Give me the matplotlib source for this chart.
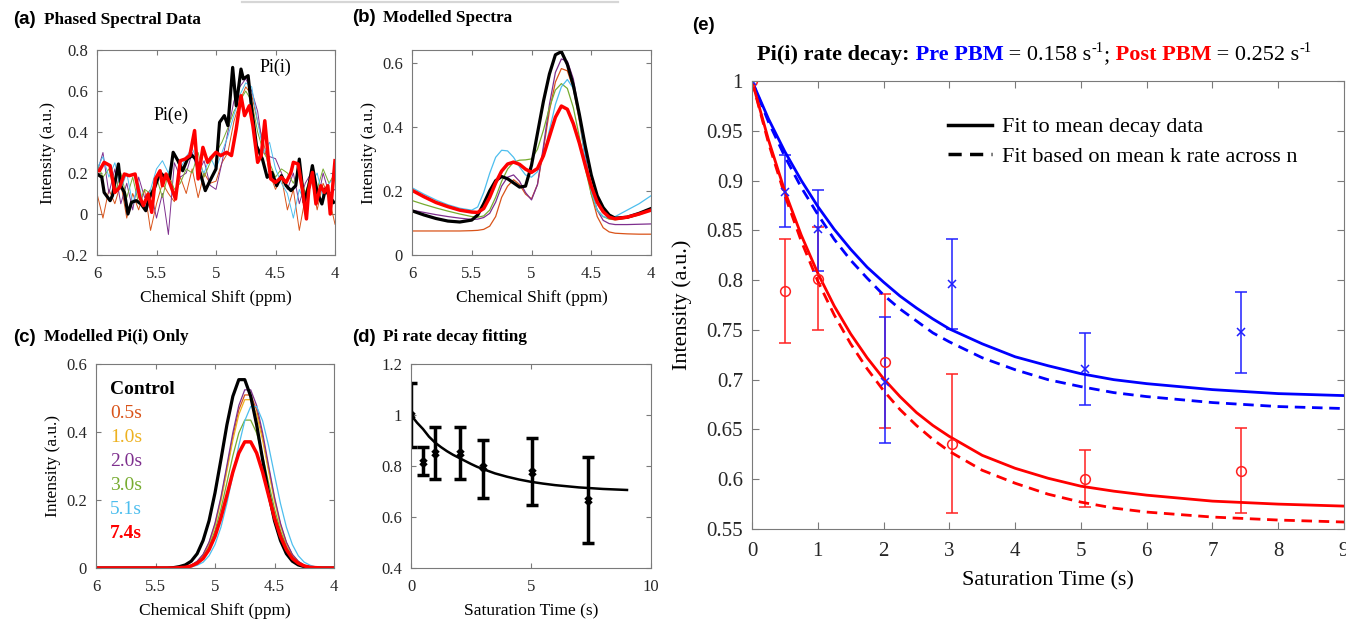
#!/usr/bin/env python3
"""
Pi(i) saturation-transfer figure: spectra (a-c), decay fit (d) and pre/post PBM rates (e).
"""
import matplotlib
matplotlib.use('Agg')
import matplotlib.pyplot as plt
from matplotlib.ticker import FuncFormatter
from matplotlib.lines import Line2D

W, H = 1346, 621

ORANGE, YELLOW, PURPLE = '#D95319', '#EDB120', '#7E2F8E'
GREEN, CYAN = '#77AC30', '#4DBEEE'

# ---- (a) phased spectral data
a_ppm_black = [6.00, 5.96, 5.94, 5.89, 5.87, 5.82, 5.80, 5.77, 5.74, 5.71, 5.67, 5.63, 5.59, 5.56,
               5.52, 5.47, 5.43, 5.39, 5.36, 5.32, 5.28, 5.24, 5.20, 5.17, 5.13, 5.09, 5.05, 5.00,
               4.97, 4.93, 4.90, 4.86, 4.83, 4.79, 4.77, 4.73, 4.70, 4.66, 4.61, 4.57, 4.53, 4.49,
               4.45, 4.41, 4.37, 4.33, 4.30, 4.26, 4.22, 4.19, 4.15, 4.11, 4.08, 4.05, 4.01]
a_black = [0.195, 0.180, 0.105, 0.065, 0.090, 0.244, 0.138, 0.105, 0.000, 0.057, 0.065, 0.049, 0.016,
           0.081, 0.122, 0.203, 0.179, 0.171, 0.301, 0.260, 0.211, 0.268, 0.285, 0.268, 0.195, 0.114,
           0.163, 0.220, 0.447, 0.480, 0.431, 0.715, 0.528, 0.707, 0.659, 0.675, 0.512, 0.333, 0.268,
           0.179, 0.203, 0.138, 0.187, 0.138, 0.114, 0.138, 0.268, 0.057, 0.138, 0.236, 0.105, 0.049,
           0.122, 0.089, 0.057]
a_ppm_red = [6.00, 5.98, 5.94, 5.89, 5.85, 5.81, 5.77, 5.73, 5.68, 5.64, 5.61, 5.57, 5.54, 5.51, 5.47,
             5.45, 5.42, 5.38, 5.34, 5.30, 5.26, 5.22, 5.18, 5.15, 5.11, 5.07, 5.04, 5.00, 4.96, 4.91,
             4.87, 4.83, 4.79, 4.76, 4.72, 4.69, 4.65, 4.62, 4.59, 4.56, 4.54, 4.50, 4.45, 4.41, 4.37,
             4.35, 4.31, 4.27, 4.24, 4.22, 4.19, 4.16, 4.12, 4.09, 4.06, 4.04, 4.00]
a_red = [0.211, 0.211, 0.252, 0.236, 0.105, 0.130, 0.195, 0.187, 0.195, 0.081, 0.041, 0.098, 0.008,
         0.171, 0.211, 0.138, 0.195, 0.138, 0.073, 0.260, 0.268, 0.285, 0.407, 0.171, 0.325, 0.252,
         0.276, 0.301, 0.285, 0.301, 0.285, 0.415, 0.577, 0.480, 0.528, 0.431, 0.252, 0.285, 0.455,
         0.268, 0.171, 0.154, 0.179, 0.154, 0.203, 0.252, 0.244, 0.105, -0.024, 0.122, 0.203, 0.049,
         0.138, 0.105, 0.138, 0.000, 0.260]
a_ppm_thin = [6.00, 5.95, 5.90, 5.85, 5.80, 5.75, 5.70, 5.65, 5.60, 5.55, 5.50, 5.45, 5.40, 5.35,
              5.30, 5.25, 5.20, 5.15, 5.10, 5.05, 5.00, 4.95, 4.90, 4.85, 4.80, 4.75, 4.70, 4.65,
              4.60, 4.55, 4.50, 4.45, 4.40, 4.35, 4.30, 4.25, 4.20, 4.15, 4.10, 4.05, 4.00]
a_orange = [0.10, -0.02, 0.12, 0.05, 0.15, -0.02, 0.10, 0.02, 0.12, -0.08, 0.05, 0.15, 0.10, 0.06,
            0.18, 0.10, 0.22, 0.08, 0.20, 0.15, 0.16, 0.25, 0.30, 0.45, 0.55, 0.62, 0.58, 0.45,
            0.35, 0.20, 0.12, 0.18, 0.02, 0.12, -0.08, 0.08, 0.18, 0.02, 0.15, 0.08, -0.05]
a_purple = [0.20, 0.30, 0.10, 0.22, 0.05, 0.15, 0.02, 0.18, 0.08, 0.12, -0.02, 0.10, -0.10, 0.25,
            0.18, 0.20, 0.30, 0.20, 0.26, 0.14, 0.12, 0.25, 0.40, 0.55, 0.62, 0.66, 0.60, 0.50,
            0.30, 0.28, 0.27, 0.20, 0.12, 0.20, 0.05, 0.15, 0.20, 0.05, 0.20, 0.10, 0.12]
a_green = [0.25, 0.18, 0.22, 0.10, 0.20, 0.08, 0.18, 0.05, 0.12, 0.10, 0.18, 0.08, 0.20, 0.12,
           0.15, 0.22, 0.20, 0.30, 0.18, 0.25, 0.30, 0.35, 0.42, 0.50, 0.55, 0.60, 0.55, 0.40,
           0.30, 0.25, 0.18, 0.22, 0.20, 0.15, 0.22, 0.10, 0.20, 0.12, 0.22, 0.15, 0.20]
a_cyan = [0.22, 0.28, 0.18, 0.25, 0.12, 0.20, 0.05, 0.15, 0.02, 0.12, 0.22, 0.26, 0.20, 0.30,
          0.22, 0.28, 0.32, 0.25, 0.20, 0.28, 0.22, 0.30, 0.38, 0.48, 0.58, 0.64, 0.62, 0.45,
          0.30, 0.35, 0.22, 0.15, 0.10, -0.02, 0.12, 0.05, 0.15, 0.20, 0.08, 0.15, 0.18]

# ---- (b) modelled spectra
b_ppm = [6.0, 5.9, 5.8, 5.7, 5.6, 5.5, 5.45, 5.4, 5.35, 5.3, 5.25, 5.2, 5.15, 5.1, 5.05, 5.0, 4.95,
         4.9, 4.85, 4.8, 4.75, 4.7, 4.65, 4.6, 4.55, 4.5, 4.45, 4.4, 4.35, 4.3, 4.2, 4.1, 4.0]
b_black = [0.138, 0.125, 0.114, 0.106, 0.103, 0.109, 0.125, 0.160, 0.200, 0.232, 0.245, 0.238, 0.225,
           0.212, 0.215, 0.280, 0.380, 0.480, 0.565, 0.625, 0.635, 0.595, 0.530, 0.440, 0.340, 0.250,
           0.185, 0.148, 0.125, 0.115, 0.118, 0.130, 0.145]
b_red = [0.202, 0.182, 0.164, 0.151, 0.140, 0.134, 0.133, 0.145, 0.180, 0.225, 0.262, 0.284, 0.290,
         0.283, 0.268, 0.258, 0.270, 0.310, 0.370, 0.430, 0.465, 0.455, 0.410, 0.350, 0.280, 0.215,
         0.165, 0.135, 0.118, 0.113, 0.118, 0.128, 0.140]
b_orange = [0.075, 0.075, 0.075, 0.075, 0.075, 0.076, 0.077, 0.080, 0.090, 0.120, 0.180, 0.215, 0.235,
            0.220, 0.190, 0.175, 0.220, 0.330, 0.450, 0.540, 0.582, 0.575, 0.520, 0.420, 0.300, 0.190,
            0.120, 0.085, 0.072, 0.068, 0.066, 0.065, 0.065]
b_purple = [0.140, 0.133, 0.126, 0.120, 0.115, 0.111, 0.112, 0.117, 0.130, 0.165, 0.215, 0.243, 0.250,
            0.230, 0.195, 0.172, 0.220, 0.340, 0.470, 0.570, 0.612, 0.605, 0.550, 0.440, 0.310, 0.200,
            0.140, 0.108, 0.098, 0.095, 0.095, 0.096, 0.097]
b_green = [0.170, 0.158, 0.147, 0.137, 0.128, 0.120, 0.118, 0.122, 0.140, 0.180, 0.230, 0.268, 0.290,
           0.296, 0.297, 0.300, 0.330, 0.390, 0.460, 0.515, 0.535, 0.520, 0.460, 0.370, 0.270, 0.190,
           0.140, 0.120, 0.112, 0.110, 0.115, 0.125, 0.140]
b_cyan = [0.210, 0.190, 0.172, 0.157, 0.146, 0.140, 0.150, 0.195, 0.255, 0.305, 0.327, 0.325, 0.305,
          0.275, 0.250, 0.243, 0.260, 0.310, 0.390, 0.470, 0.525, 0.548, 0.520, 0.430, 0.300, 0.200,
          0.140, 0.120, 0.115, 0.120, 0.140, 0.160, 0.185]

# ---- (c) modelled Pi(i) only
c_ppm = [6.0, 5.40, 5.35, 5.30, 5.25, 5.20, 5.15, 5.10, 5.05, 5.00, 4.95, 4.90, 4.85, 4.80, 4.75,
         4.70, 4.65, 4.60, 4.55, 4.50, 4.45, 4.40, 4.35, 4.30, 4.25, 4.20, 4.15, 4.10, 4.0]
c_black = [0, 0, 0.001, 0.004, 0.009, 0.020, 0.042, 0.081, 0.139, 0.221, 0.319, 0.421, 0.505, 0.554,
           0.554, 0.505, 0.421, 0.319, 0.221, 0.139, 0.081, 0.042, 0.020, 0.009, 0.004, 0.001, 0, 0, 0]
c_red = [0, 0, 0, 0.001, 0.002, 0.006, 0.014, 0.028, 0.054, 0.093, 0.148, 0.214, 0.282, 0.338, 0.371,
         0.371, 0.338, 0.282, 0.214, 0.148, 0.093, 0.054, 0.028, 0.014, 0.006, 0.002, 0.001, 0, 0]
c_orange = [0, 0, 0, 0.001, 0.003, 0.008, 0.019, 0.039, 0.074, 0.128, 0.203, 0.294, 0.387, 0.465,
            0.509, 0.509, 0.465, 0.387, 0.294, 0.203, 0.128, 0.074, 0.039, 0.019, 0.008, 0.003,
            0.001, 0, 0]
c_yellow = [0, 0, 0, 0.001, 0.003, 0.008, 0.018, 0.038, 0.072, 0.125, 0.197, 0.285, 0.376, 0.451,
            0.495, 0.495, 0.451, 0.376, 0.285, 0.197, 0.125, 0.072, 0.038, 0.018, 0.008, 0.003,
            0.001, 0, 0]
c_purple = [0, 0, 0, 0.001, 0.003, 0.008, 0.020, 0.040, 0.076, 0.132, 0.209, 0.302, 0.398, 0.478,
            0.524, 0.524, 0.478, 0.398, 0.302, 0.209, 0.132, 0.076, 0.040, 0.020, 0.008, 0.003,
            0.001, 0, 0]
c_green = [0, 0, 0, 0.001, 0.003, 0.007, 0.016, 0.033, 0.063, 0.110, 0.174, 0.251, 0.330, 0.397,
           0.435, 0.435, 0.397, 0.330, 0.251, 0.174, 0.110, 0.063, 0.033, 0.016, 0.007, 0.003,
           0.001, 0, 0]
c_cyan = [0, 0, 0, 0, 0.001, 0.003, 0.008, 0.017, 0.036, 0.069, 0.120, 0.190, 0.274, 0.360, 0.433,
          0.475, 0.475, 0.433, 0.360, 0.274, 0.190, 0.120, 0.069, 0.036, 0.017, 0.008, 0.003,
          0.001, 0]
c_labels = ['Control', '0.5s', '1.0s', '2.0s', '3.0s', '5.1s', '7.4s']

# ---- (d) Pi rate decay fitting
d_time = [0, 0.5, 1.0, 2.04, 3.0, 5.04, 7.38]
d_mean = [1.0, 0.816, 0.851, 0.851, 0.796, 0.776, 0.667]
d_hi = [1.125, 0.875, 0.953, 0.953, 0.902, 0.909, 0.835]
d_lo = [0.875, 0.765, 0.749, 0.749, 0.675, 0.647, 0.498]

# ---- (e) pre / post PBM
e_time = [0, 0.5, 1.0, 2.02, 3.04, 5.06, 7.43]
pre_mean = [1.0, 0.889, 0.851, 0.698, 0.796, 0.711, 0.748]
pre_hi = [1.0, 0.926, 0.891, 0.763, 0.841, 0.747, 0.788]
pre_lo = [1.0, 0.853, 0.809, 0.636, 0.751, 0.675, 0.707]
post_mean = [1.0, 0.789, 0.801, 0.718, 0.635, 0.600, 0.608]
post_hi = [1.0, 0.841, 0.853, 0.786, 0.706, 0.629, 0.651]
post_lo = [1.0, 0.737, 0.750, 0.651, 0.566, 0.572, 0.566]

# fitted curves
fit_t = [0, 0.25, 0.5, 0.75, 1, 1.25, 1.5, 1.75, 2, 2.25, 2.5, 2.75, 3, 3.5, 4, 4.5, 5, 5.5, 6, 7, 8, 9]
d_fit = [1.0, 0.970, 0.945, 0.915, 0.892, 0.874, 0.858, 0.844, 0.832, 0.820, 0.808, 0.797, 0.788,
         0.771, 0.758, 0.747, 0.738, 0.731, 0.725, 0.716, 0.710, 0.706]
pre_fit = [1.0, 0.962, 0.929, 0.900, 0.874, 0.851, 0.831, 0.813, 0.798, 0.784, 0.772, 0.761, 0.751,
           0.736, 0.723, 0.714, 0.706, 0.700, 0.696, 0.690, 0.686, 0.684]
pre_fit_k = [1.0, 0.959, 0.924, 0.893, 0.866, 0.841, 0.820, 0.802, 0.785, 0.771, 0.759, 0.747, 0.738,
             0.722, 0.710, 0.700, 0.693, 0.687, 0.683, 0.677, 0.673, 0.671]
post_fit = [1.0, 0.941, 0.889, 0.845, 0.807, 0.774, 0.746, 0.722, 0.701, 0.683, 0.667, 0.654, 0.643,
            0.624, 0.611, 0.601, 0.593, 0.588, 0.584, 0.578, 0.575, 0.573]
post_fit_k = [1.0, 0.938, 0.885, 0.839, 0.799, 0.765, 0.736, 0.711, 0.689, 0.670, 0.654, 0.640, 0.628,
              0.609, 0.596, 0.585, 0.577, 0.571, 0.567, 0.562, 0.559, 0.557]

DASH = (0, (3.8, 2.4))


def px_axes(fig, left, top, right, bottom):
    return fig.add_axes([left / W, 1 - bottom / H, (right - left) / W, (bottom - top) / H])


def style(ax, size, ticklen, xpad, ypad):
    ax.tick_params(direction='in', top=True, right=True, length=ticklen, width=0.8,
                   color='#7a7a7a', labelcolor='#262626', labelsize=size)
    ax.tick_params(axis='x', pad=xpad)
    ax.tick_params(axis='y', pad=ypad)
    for s in ax.spines.values():
        s.set_color('#7a7a7a')
        s.set_linewidth(0.8)
    fmt = FuncFormatter(lambda v, p: '%g' % round(v, 3))
    ax.xaxis.set_major_formatter(fmt)
    ax.yaxis.set_major_formatter(fmt)


def panel_label(fig, x, y, letter, title):
    fig.text(x / W, 1 - y / H, '(%s)' % letter, family='Liberation Sans', weight='bold',
             size=13.5, ha='left', va='center')
    fig.text((x + 31) / W, 1 - y / H, title, weight='bold', size=12.3, ha='left', va='center')


def spectrum_axes(ax):
    ax.set_xlim(6, 4)
    ax.set_xticks([6, 5.5, 5, 4.5, 4])
    ax.set_xlabel('Chemical Shift (ppm)', size=12.5, labelpad=6)
    ax.set_ylabel('Intensity (a.u.)', size=12.5, labelpad=4)
    style(ax, 12, 3.5, 8, 6.5)


def main():
    plt.rcParams['font.family'] = 'Liberation Serif'
    fig = plt.figure(figsize=(W / 100, H / 100), dpi=100)

    fig.add_artist(Line2D([242 / W, 618 / W], [1 - 1.5 / H, 1 - 1.5 / H], color='#d6d6d6', lw=1.6))

    # (a)
    ax = px_axes(fig, 97, 50, 335, 255)
    for y, c in [(a_orange, ORANGE), (a_purple, PURPLE), (a_green, GREEN), (a_cyan, CYAN)]:
        ax.plot(a_ppm_thin, y, color=c, lw=0.7)
    ax.plot(a_ppm_black, a_black, color='black', lw=2.3)
    ax.plot(a_ppm_red, a_red, color='red', lw=2.5)
    ax.text(4.50, 0.715, 'Pi(i)', size=13, ha='center', va='center')
    ax.text(5.38, 0.483, 'Pi(e)', size=13, ha='center', va='center')
    ax.set_ylim(-0.2, 0.8)
    ax.set_yticks([-0.2, 0, 0.2, 0.4, 0.6, 0.8])
    spectrum_axes(ax)
    panel_label(fig, 13, 20, 'a', 'Phased Spectral Data')

    # (b)
    ax = px_axes(fig, 412, 50, 651, 255)
    for y, c in [(b_orange, ORANGE), (b_purple, PURPLE), (b_green, GREEN), (b_cyan, CYAN)]:
        ax.plot(b_ppm, y, color=c, lw=0.9)
    ax.plot(b_ppm, b_black, color='black', lw=2.3)
    ax.plot(b_ppm, b_red, color='red', lw=2.5)
    ax.set_ylim(0, 0.64)
    ax.set_yticks([0, 0.2, 0.4, 0.6])
    spectrum_axes(ax)
    panel_label(fig, 352, 18, 'b', 'Modelled Spectra')

    # (c)
    ax = px_axes(fig, 96, 364, 334, 568)
    for y, c in [(c_orange, ORANGE), (c_yellow, YELLOW), (c_purple, PURPLE), (c_green, GREEN),
                 (c_cyan, CYAN)]:
        ax.plot(c_ppm, y, color=c, lw=0.9)
    ax.plot(c_ppm, c_black, color='black', lw=2.3)
    ax.plot(c_ppm, c_red, color='red', lw=2.5)
    label_colors = ['black', ORANGE, YELLOW, PURPLE, GREEN, CYAN, 'red']
    for i, (lab, col) in enumerate(zip(c_labels, label_colors)):
        bold = i in (0, len(c_labels) - 1)
        ax.text(0.06, 0.877 - i * 0.1176, lab, transform=ax.transAxes, color=col, size=14,
                weight='bold' if bold else 'normal', va='center', ha='left')
    ax.set_ylim(0, 0.6)
    ax.set_yticks([0, 0.2, 0.4, 0.6])
    spectrum_axes(ax)
    panel_label(fig, 13, 337, 'c', 'Modelled Pi(i) Only')

    # (d)
    ax = px_axes(fig, 411, 364, 651, 568)
    d_err = [[m - lo for m, lo in zip(d_mean, d_lo)], [hi - m for m, hi in zip(d_mean, d_hi)]]
    ax.errorbar(d_time, d_mean, yerr=d_err, fmt='x', color='black', ms=5, mew=2.5,
                elinewidth=2.5, capsize=4.5, capthick=2.5)
    ax.plot(fit_t, d_fit, color='black', lw=1.8)
    ax.set_xlim(0, 10)
    ax.set_ylim(0.4, 1.2)
    ax.set_xticks([0, 5, 10])
    ax.set_yticks([0.4, 0.6, 0.8, 1, 1.2])
    ax.set_xlabel('Saturation Time (s)', size=12.5, labelpad=6)
    style(ax, 12, 3.5, 8, 6.5)
    panel_label(fig, 352, 337, 'd', 'Pi rate decay fitting')

    # (e)
    ax = px_axes(fig, 752, 81, 1344, 529)
    post_err = [[m - lo for m, lo in zip(post_mean, post_lo)],
                [hi - m for m, hi in zip(post_mean, post_hi)]]
    pre_err = [[m - lo for m, lo in zip(pre_mean, pre_lo)],
               [hi - m for m, hi in zip(pre_mean, pre_hi)]]
    ax.errorbar(e_time, post_mean, yerr=post_err, fmt='o', color='#ff2020', mfc='none', ms=7,
                mew=1.1, elinewidth=1.1, capsize=4.5, capthick=1.1)
    ax.errorbar(e_time, pre_mean, yerr=pre_err, fmt='x', color='#2020ff', ms=6, mew=1.1,
                elinewidth=1.1, capsize=4.5, capthick=1.1)
    ax.plot(fit_t, pre_fit, color='blue', lw=2.0)
    ax.plot(fit_t, pre_fit_k, color='blue', lw=2.0, ls=DASH)
    ax.plot(fit_t, post_fit, color='red', lw=2.0)
    ax.plot(fit_t, post_fit_k, color='red', lw=2.0, ls=DASH)
    handles = [Line2D([], [], color='black', lw=2.5),
               Line2D([], [], color='black', lw=2.5, ls=DASH)]
    ax.legend(handles, ['Fit to mean decay data', 'Fit based on mean k rate across n'],
              loc='upper left', bbox_to_anchor=(0.316, 0.94), frameon=False, fontsize=16,
              handlelength=2.0, handletextpad=0.45, labelspacing=0.4, borderaxespad=0)
    ax.set_xlim(0, 9)
    ax.set_ylim(0.55, 1)
    ax.set_xticks(range(10))
    ax.set_yticks([0.55, 0.6, 0.65, 0.7, 0.75, 0.8, 0.85, 0.9, 0.95, 1])
    ax.set_xlabel('Saturation Time (s)', size=16, labelpad=8)
    ax.set_ylabel('Intensity (a.u.)', size=16, labelpad=10)
    style(ax, 15, 5, 9, 6.5)
    fig.text(692 / W, 1 - 25 / H, '(e)', family='Liberation Sans', weight='bold', size=13.5,
             ha='left', va='center')

    # title of (e) in coloured pieces: text, colour, weight, size, raise in px
    pieces = [('Pi(i) rate decay:', 'black', 'bold', 16, 0),
              (' Pre PBM', 'blue', 'bold', 16, 0),
              (' = 0.158 s', 'black', 'normal', 16, 0),
              ('-1', 'black', 'normal', 10.5, 8),
              (';', 'black', 'normal', 16, 0),
              (' Post PBM', 'red', 'bold', 16, 0),
              (' = 0.252 s', 'black', 'normal', 16, 0),
              ('-1', 'black', 'normal', 10.5, 8)]
    renderer = fig.canvas.get_renderer()
    x = 757 / W
    for s, col, wt, size, dy in pieces:
        t = fig.text(x, 1 - (60 - dy) / H, s, color=col, weight=wt, size=size,
                     ha='left', va='baseline')
        x = t.get_window_extent(renderer).x1 / fig.bbox.width

    fig.savefig('out.png', dpi=100)
    plt.close(fig)


if __name__ == '__main__':
    main()
